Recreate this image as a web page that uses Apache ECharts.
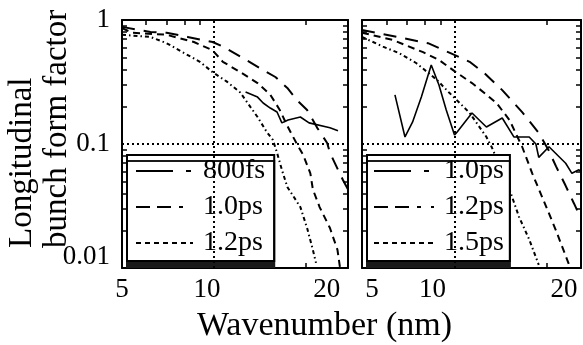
<!DOCTYPE html>
<html>
<head>
<meta charset="utf-8">
<script src="https://cdn.jsdelivr.net/npm/echarts@6/dist/echarts.min.js"></script>
<style>
html,body{margin:0;padding:0;background:#fff;}
#chart{width:583px;height:345px;}
</style>
</head>
<body>
<div id="chart"></div>
<script>
// ---------- data ----------
const xTickValues = [5, 10, 20];
const xTickLabels = ['5', '10', '20'];
const xMinorTicks = [6, 7, 8, 9, 20];
const yTickValues = [0.01, 0.1, 1];
const yTickLabels = ['0.01', '0.1', '1'];
const yMinorTicks = [0.02, 0.03, 0.04, 0.05, 0.06, 0.07, 0.08, 0.09, 0.2, 0.3, 0.4, 0.5, 0.6, 0.7, 0.8, 0.9];
const refX = 10;
const refY = 0.1;

const leftLegend = ['800fs', '1.0ps', '1.2ps'];
const rightLegend = ['1.0ps', '1.2ps', '1.5ps'];

// left panel
const L_solidX = [12.7, 13.9, 14.5, 15.3, 16.1, 16.7, 17.5, 19.2, 20.5, 24, 25.5];
const L_solidY = [0.263, 0.239, 0.214, 0.195, 0.181, 0.148, 0.156, 0.165, 0.148, 0.135, 0.128];
const L_longX = [5, 6.2, 7, 8.2, 9.9, 10.7, 12.5, 14.5, 15.9, 17.4, 18.7, 20.2, 21.8, 23.5, 24, 25.5, 26.5, 27.5];
const L_longY = [0.88, 0.80, 0.79, 0.73, 0.665, 0.61, 0.49, 0.395, 0.347, 0.283, 0.226, 0.188, 0.135, 0.102, 0.085, 0.062, 0.051, 0.043];
const L_medX = [5, 5.4, 7, 8.6, 9.9, 10.7, 12.2, 13.9, 15.3, 16.4, 17.4, 18.7, 19.6, 20.7, 21.1, 22.2, 24, 25.4, 25.9];
const L_medY = [0.86, 0.79, 0.76, 0.665, 0.57, 0.46, 0.38, 0.31, 0.25, 0.19, 0.14, 0.10, 0.082, 0.058, 0.043, 0.031, 0.021, 0.014, 0.010];
const L_dotX = [5, 6.2, 7, 7.9, 9, 9.9, 11, 12.2, 12.7, 13.9, 14.9, 15.6, 16.1, 16.7, 17.4, 19.2, 20.2, 21.1, 21.6];
const L_dotY = [0.76, 0.73, 0.65, 0.55, 0.46, 0.38, 0.32, 0.26, 0.226, 0.165, 0.125, 0.108, 0.085, 0.062, 0.045, 0.031, 0.021, 0.014, 0.011];

// right panel
const R_solidX = [6.4, 6.9, 7.3, 7.8, 8.4, 8.9, 9.4, 10, 10.2, 11.4, 12.7, 14.3, 15.6, 17.5, 18.4, 18.8, 20.3, 23, 24.1, 25.4, 25.8];
const R_solidY = [0.249, 0.114, 0.15, 0.239, 0.434, 0.299, 0.188, 0.118, 0.125, 0.178, 0.137, 0.162, 0.114, 0.114, 0.1, 0.078, 0.095, 0.07, 0.058, 0.062, 0.06];
const R_longX = [5, 6.5, 8.2, 9.7, 11.2, 12.5, 14.3, 16.6, 18.8, 20.2, 21.4, 23, 24.5, 25.8];
const R_longY = [0.83, 0.73, 0.65, 0.54, 0.46, 0.374, 0.272, 0.181, 0.123, 0.09, 0.066, 0.046, 0.033, 0.025];
const R_medX = [5, 6.3, 7.9, 8.9, 10.1, 11.4, 12.7, 13.7, 15.1, 16.6, 17.9, 19.9, 21.4, 23.6];
const R_medY = [0.79, 0.69, 0.55, 0.476, 0.38, 0.31, 0.25, 0.214, 0.156, 0.095, 0.058, 0.031, 0.020, 0.0106];
const R_dotX = [5, 5.85, 6.6, 7.5, 8.75, 9.6, 10.4, 11.2, 11.8, 12.7, 13.2, 15.1, 16.2, 17.5, 18.8];
const R_dotY = [0.73, 0.61, 0.54, 0.45, 0.33, 0.26, 0.214, 0.178, 0.148, 0.114, 0.095, 0.043, 0.026, 0.017, 0.0106];

// ---------- styles ----------
const FONT = 'Liberation Serif';
const xLabelShift = [[0, -7, 21], [10, -22, 17]];
const yLabelShiftUp = [11, 0, 0];

function zip(xs, ys) { return xs.map((x, i) => [x, ys[i]]); }
function nearestIdx(arr, v) {
  let b = 0, bd = Infinity;
  arr.forEach((a, i) => { const d = Math.abs(Math.log(a) - Math.log(v)); if (d < bd) { bd = d; b = i; } });
  return b;
}
function xRich(p) {
  const r = {};
  xLabelShift[p].forEach((d, i) => {
    r['s' + i] = { fontSize: 27, fontFamily: FONT, color: '#000', padding: d >= 0 ? [0, 0, 0, 2 * d] : [0, -2 * d, 0, 0] };
  });
  return r;
}
function yRich() {
  const r = {};
  yLabelShiftUp.forEach((d, i) => {
    r['s' + i] = { fontSize: 27, fontFamily: FONT, color: '#000', padding: [0, 0, 2 * d, 0] };
  });
  return r;
}
const axisLineStyle = { show: true, lineStyle: { color: '#000', width: 2 } };

function xAxes(p, max) {
  const common = {
    type: 'log', logBase: 10, gridIndex: p, min: 5, max: max,
    axisLine: axisLineStyle, splitLine: { show: false },
    axisTick: { show: true, inside: true, length: 5, customValues: xMinorTicks, lineStyle: { color: '#000', width: 1.5 } }
  };
  return [
    Object.assign({}, common, {
      position: 'bottom',
      axisLabel: {
        show: true, margin: 8, customValues: xTickValues, rich: xRich(p),
        formatter: v => { const i = nearestIdx(xTickValues, v); return '{s' + i + '|' + xTickLabels[i] + '}'; }
      }
    }),
    Object.assign({}, common, { position: 'top', axisLabel: { show: false } })
  ];
}
function yAxes(p, showLabels) {
  const common = {
    type: 'log', logBase: 10, gridIndex: p, min: 0.01, max: 1,
    axisLine: axisLineStyle, splitLine: { show: false },
    axisTick: { show: true, inside: true, length: 5, customValues: yMinorTicks, lineStyle: { color: '#000', width: 1.5 } }
  };
  return [
    Object.assign({}, common, {
      position: 'left',
      axisLabel: {
        show: showLabels, margin: 12, customValues: yTickValues, rich: yRich(),
        formatter: v => { const i = nearestIdx(yTickValues, v); return '{s' + i + '|' + yTickLabels[i] + '}'; }
      }
    }),
    Object.assign({}, common, { position: 'right', axisLabel: { show: false } })
  ];
}

const styles = {
  solid: { type: 'solid', width: 1.6 },
  long: { type: [13, 9], width: 2 },
  med: { type: [7, 5], width: 2 },
  dot: { type: [4, 3, 1.5, 3], width: 2 }
};
function line(name, p, xs, ys, st, withRef) {
  const s = {
    name: name, type: 'line', xAxisIndex: p * 2, yAxisIndex: p * 2,
    data: zip(xs, ys), showSymbol: false, symbol: 'none', smooth: false,
    lineStyle: Object.assign({ color: '#000' }, st), itemStyle: { color: '#000' }, silent: true
  };
  if (withRef) {
    s.markLine = {
      silent: true, symbol: 'none', label: { show: false },
      lineStyle: { type: [2, 3], color: '#000', width: 2 },
      data: [{ xAxis: refX }, { yAxis: refY }]
    };
  }
  return s;
}

const legendSamples = [
  { type: [37, 13, 5, 10], width: 2 },
  { type: [14, 7, 14, 8, 4, 10], width: 2 },
  { type: [5, 4], width: 2 }
];
function legend(p, names, left, itemWidth, padding) {
  return {
    orient: 'vertical', left: left, top: 155, itemWidth: itemWidth, itemHeight: 14, itemGap: 8,
    padding: padding, selectedMode: false,
    backgroundColor: '#fff', borderColor: '#000', borderWidth: 2,
    shadowColor: '#1a1a1a', shadowBlur: 0, shadowOffsetX: 0, shadowOffsetY: 6,
    textStyle: { fontSize: 28, fontFamily: FONT, color: '#000', padding: [0, 0, 0, 5] },
    itemStyle: { opacity: 0, borderWidth: 0 },
    formatter: n => n.split(':')[1],
    data: names.map((n, i) => ({
      name: p + ':' + n,
      itemStyle: { opacity: 0, borderWidth: 0 },
      lineStyle: Object.assign({ color: '#000', opacity: 1 }, legendSamples[i])
    }))
  };
}

const chart = echarts.init(document.getElementById('chart'), null, { renderer: 'canvas' });
chart.setOption({
  backgroundColor: '#fff',
  animation: false,
  title: {
    text: 'Wavenumber (nm)', left: 197, top: 309, padding: 0,
    textStyle: { fontSize: 34, fontFamily: FONT, fontWeight: 'normal', color: '#000' }
  },
  graphic: [{
    type: 'text', x: 5, y: 248, rotation: Math.PI / 2,
    style: {
      text: 'Longitudinal\nbunch form factor', font: '33px "' + FONT + '"',
      align: 'left', verticalAlign: 'top', lineHeight: 35, fill: '#000'
    }
  }],
  grid: [
    { left: 122, top: 20, width: 226, height: 248 },
    { left: 362, top: 20, width: 219, height: 248 }
  ],
  xAxis: [].concat(xAxes(0, 27.5), xAxes(1, 25.8)),
  yAxis: [].concat(yAxes(0, true), yAxes(1, false)),
  legend: [
    legend('a', leftLegend, 127, 57, [2, 9, 4, 8]),
    legend('b', rightLegend, 367, 60, [2, 6, 4, 6])
  ],
  series: [
    line('a:' + leftLegend[0], 0, L_solidX, L_solidY, styles.solid, true),
    line('a:' + leftLegend[1], 0, L_longX, L_longY, styles.long, false),
    line('a:' + leftLegend[2], 0, L_medX, L_medY, styles.med, false),
    line('a:calc', 0, L_dotX, L_dotY, styles.dot, false),
    line('b:' + rightLegend[0], 1, R_solidX, R_solidY, styles.solid, true),
    line('b:' + rightLegend[1], 1, R_longX, R_longY, styles.long, false),
    line('b:' + rightLegend[2], 1, R_medX, R_medY, styles.med, false),
    line('b:calc', 1, R_dotX, R_dotY, styles.dot, false)
  ]
});
</script>
</body>
</html>
